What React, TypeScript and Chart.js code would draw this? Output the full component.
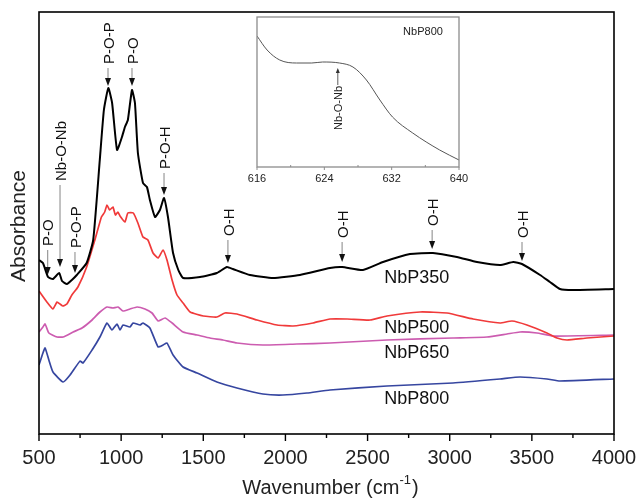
import React, { useEffect, useRef } from 'react';
import { Chart, registerables } from 'chart.js';

Chart.register(...registerables);

const FONT = '"Liberation Sans", Arial, Helvetica, sans-serif';

// ---------- main spectra (wavenumber cm-1, absorbance a.u.) ----------
const nbp350Wn = [500, 524, 555, 585, 623, 640, 670, 700, 730, 790, 830, 870, 895, 922, 945, 975, 1005, 1023, 1041, 1066, 1084, 1102, 1133, 1157, 1175, 1206, 1236, 1261, 1285, 1316, 1348, 1377, 1480, 1583, 1644, 1680, 1784, 1925, 2088, 2271, 2345, 2472, 2594, 2758, 2898, 3044, 3166, 3306, 3387, 3440, 3550, 3610, 3671, 3750, 4000];
const nbp350Abs = [1.74, 1.71, 1.57, 1.55, 1.61, 1.53, 1.50, 1.54, 1.59, 1.71, 1.94, 2.74, 3.24, 3.46, 3.31, 2.84, 2.97, 3.07, 3.14, 3.44, 3.31, 2.81, 2.51, 2.47, 2.34, 2.17, 2.24, 2.36, 2.17, 1.81, 1.64, 1.56, 1.57, 1.61, 1.67, 1.65, 1.59, 1.56, 1.59, 1.66, 1.67, 1.64, 1.72, 1.80, 1.81, 1.77, 1.72, 1.69, 1.72, 1.70, 1.59, 1.52, 1.45, 1.44, 1.45];

const nbp500Wn = [500, 548, 585, 610, 628, 645, 670, 700, 737, 790, 840, 880, 900, 914, 930, 950, 965, 980, 993, 1023, 1041, 1074, 1102, 1133, 1163, 1194, 1225, 1255, 1279, 1310, 1340, 1377, 1420, 1500, 1583, 1632, 1705, 1827, 1949, 2046, 2168, 2271, 2375, 2515, 2618, 2819, 2984, 3142, 3306, 3379, 3470, 3592, 3653, 3714, 3835, 4000];
const nbp500Abs = [1.43, 1.32, 1.25, 1.32, 1.30, 1.28, 1.30, 1.39, 1.47, 1.67, 1.94, 2.17, 2.22, 2.29, 2.24, 2.27, 2.19, 2.22, 2.18, 2.12, 2.21, 2.21, 2.11, 1.97, 1.94, 1.81, 1.76, 1.84, 1.74, 1.54, 1.39, 1.31, 1.22, 1.18, 1.17, 1.21, 1.20, 1.14, 1.09, 1.08, 1.11, 1.15, 1.15, 1.14, 1.18, 1.22, 1.21, 1.15, 1.11, 1.13, 1.09, 1.01, 0.96, 0.94, 0.96, 0.98];

const nbp650Wn = [500, 524, 537, 560, 610, 647, 708, 762, 823, 871, 914, 950, 981, 1011, 1054, 1097, 1145, 1188, 1225, 1267, 1310, 1377, 1462, 1541, 1620, 1705, 1863, 2070, 2271, 2618, 3020, 3227, 3349, 3428, 3531, 3629, 4000];
const nbp650Abs = [1.02, 1.07, 1.10, 1.01, 0.97, 0.97, 1.02, 1.06, 1.14, 1.22, 1.27, 1.26, 1.27, 1.23, 1.25, 1.27, 1.25, 1.21, 1.13, 1.16, 1.11, 1.02, 0.99, 0.96, 0.94, 0.91, 0.89, 0.90, 0.91, 0.94, 0.96, 0.97, 1.00, 1.02, 1.01, 0.98, 0.99];

const nbp800Wn = [500, 524, 537, 560, 585, 647, 689, 750, 768, 823, 871, 914, 944, 975, 993, 1011, 1054, 1072, 1115, 1133, 1175, 1225, 1255, 1279, 1316, 1377, 1462, 1583, 1705, 1863, 1985, 2131, 2271, 2618, 3020, 3306, 3428, 3592, 3671, 4000];
const nbp800Abs = [0.69, 0.81, 0.86, 0.74, 0.62, 0.52, 0.59, 0.73, 0.71, 0.84, 0.97, 1.11, 1.04, 1.10, 1.04, 1.09, 1.07, 1.11, 1.09, 1.11, 1.06, 0.87, 0.89, 0.91, 0.79, 0.67, 0.61, 0.52, 0.46, 0.40, 0.39, 0.41, 0.44, 0.48, 0.51, 0.55, 0.57, 0.55, 0.53, 0.55];

const seriesNames = ['NbP350', 'NbP500', 'NbP650', 'NbP800'];
const seriesColors = ['#000000', '#f03a3a', '#cc5cb0', '#3646a0'];
const seriesLabelWn = 2800;
const seriesLabelAbs = [1.56, 1.06, 0.81, 0.35];

// ---------- peak assignments ----------
const peakLabels = ['P-O', 'Nb-O-Nb', 'P-O-P', 'P-O-P', 'P-O', 'P-O-H', 'O-H', 'O-H', 'O-H', 'O-H'];
const peakWn = [553, 628, 719, 920, 1066, 1261, 1650, 2345, 2893, 3440];
const arrowStartAbs = [1.84, 2.49, 1.82, 3.66, 3.66, 2.61, 1.94, 1.92, 2.04, 1.92];
const arrowTipAbs = [1.59, 1.67, 1.61, 3.48, 3.48, 2.39, 1.71, 1.72, 1.85, 1.73];

const xMajorTicks = [500, 1000, 1500, 2000, 2500, 3000, 3500, 4000];
const xMinorTicks = [750, 1250, 1750, 2250, 2750, 3250, 3750];

// ---------- inset (NbP800, 616-640 cm-1) ----------
const insetWn = [616, 617.2, 618.7, 620.7, 622.5, 623.8, 625.8, 627.4, 629, 630.6, 632.1, 634.5, 637.7, 640];
const insetAbs = [131, 117, 107, 104, 104, 105, 104, 100, 87, 67, 50, 34, 17, 7];
const insetMajorTicks = [616, 624, 632, 640];
const insetMinorTicks = [620, 628, 636];
const insetPeakWn = 625.6;
const insetArrowStart = 82;
const insetArrowTip = 99;

const toPoints = (xs: number[], ys: number[]) => xs.map((x, i) => ({ x, y: ys[i] }));

function drawArrow(ctx: CanvasRenderingContext2D, x: number, y0: number, y1: number, head: number, halfW: number, lineColor: string, headColor: string) {
  const dir = y1 > y0 ? 1 : -1;
  ctx.save();
  ctx.strokeStyle = lineColor;
  ctx.lineWidth = 0.8;
  ctx.beginPath();
  ctx.moveTo(x, y0);
  ctx.lineTo(x, y1 - dir * head);
  ctx.stroke();
  ctx.fillStyle = headColor;
  ctx.beginPath();
  ctx.moveTo(x, y1);
  ctx.lineTo(x - halfW, y1 - dir * head);
  ctx.lineTo(x + halfW, y1 - dir * head);
  ctx.closePath();
  ctx.fill();
  ctx.restore();
}

function drawVerticalText(ctx: CanvasRenderingContext2D, text: string, x: number, yBottom: number, font: string, color: string) {
  ctx.save();
  ctx.translate(x, yBottom);
  ctx.rotate(-Math.PI / 2);
  ctx.font = font;
  ctx.fillStyle = color;
  ctx.textAlign = 'left';
  ctx.textBaseline = 'middle';
  ctx.fillText(text, 0, 0);
  ctx.restore();
}

const mainPlugin = {
  id: 'mainDecor',
  afterDraw(chart: any) {
    const ctx: CanvasRenderingContext2D = chart.ctx;
    const { left, top, right, bottom } = chart.chartArea;
    const xs = chart.scales.x;
    const ys = chart.scales.y;
    ctx.save();
    // frame
    ctx.strokeStyle = '#000';
    ctx.lineWidth = 1.6;
    ctx.strokeRect(left, top, right - left, bottom - top);
    // ticks
    ctx.lineWidth = 1.4;
    ctx.beginPath();
    xMajorTicks.forEach((t) => {
      const px = xs.getPixelForValue(t);
      ctx.moveTo(px, bottom);
      ctx.lineTo(px, bottom + 7);
    });
    xMinorTicks.forEach((t) => {
      const px = xs.getPixelForValue(t);
      ctx.moveTo(px, bottom);
      ctx.lineTo(px, bottom + 4);
    });
    ctx.stroke();
    // tick labels
    ctx.font = `20px ${FONT}`;
    ctx.fillStyle = '#222';
    ctx.textAlign = 'center';
    ctx.textBaseline = 'middle';
    xMajorTicks.forEach((t) => {
      ctx.fillText(String(t), xs.getPixelForValue(t), bottom + 24);
    });
    // x title with superscript
    const p1 = 'Wavenumber (cm';
    const sup = '-1';
    const p3 = ')';
    ctx.font = `20px ${FONT}`;
    const w1 = ctx.measureText(p1).width;
    const w3 = ctx.measureText(p3).width;
    ctx.font = `13px ${FONT}`;
    const w2 = ctx.measureText(sup).width;
    const total = w1 + w2 + w3 + 1;
    let cx = (left + right) / 2 - total / 2 + 4;
    const ty = 487;
    ctx.textAlign = 'left';
    ctx.textBaseline = 'alphabetic';
    ctx.font = `20px ${FONT}`;
    ctx.fillText(p1, cx, ty + 7);
    cx += w1;
    ctx.font = `13px ${FONT}`;
    ctx.fillText(sup, cx, ty - 3);
    cx += w2 + 1;
    ctx.font = `20px ${FONT}`;
    ctx.fillText(p3, cx, ty + 7);
    // y title
    ctx.save();
    ctx.translate(19, (top + bottom) / 2 + 3);
    ctx.rotate(-Math.PI / 2);
    ctx.font = `21px ${FONT}`;
    ctx.textAlign = 'center';
    ctx.textBaseline = 'middle';
    ctx.fillText('Absorbance', 0, 0);
    ctx.restore();
    // peak annotations
    peakLabels.forEach((lab, i) => {
      const px = xs.getPixelForValue(peakWn[i]);
      const y0 = ys.getPixelForValue(arrowStartAbs[i]);
      const y1 = ys.getPixelForValue(arrowTipAbs[i]);
      drawArrow(ctx, px, y0, y1, 8, 3, '#666', '#111');
      drawVerticalText(ctx, lab, px + 1.5, y0 - 4, `15px ${FONT}`, '#111');
    });
    // series labels
    ctx.font = `18px ${FONT}`;
    ctx.fillStyle = '#111';
    ctx.textAlign = 'center';
    ctx.textBaseline = 'middle';
    seriesNames.forEach((n, i) => {
      ctx.fillText(n, xs.getPixelForValue(seriesLabelWn), ys.getPixelForValue(seriesLabelAbs[i]));
    });
    ctx.restore();
  },
};

const insetPlugin = {
  id: 'insetDecor',
  afterDraw(chart: any) {
    const ctx: CanvasRenderingContext2D = chart.ctx;
    const { left, top, right, bottom } = chart.chartArea;
    const xs = chart.scales.x;
    const ys = chart.scales.y;
    ctx.save();
    ctx.strokeStyle = '#8c8c8c';
    ctx.lineWidth = 1.3;
    ctx.strokeRect(left, top, right - left, bottom - top);
    ctx.lineWidth = 1;
    ctx.beginPath();
    insetMajorTicks.forEach((t) => {
      const px = xs.getPixelForValue(t);
      ctx.moveTo(px, bottom);
      ctx.lineTo(px, bottom + 3);
    });
    insetMinorTicks.forEach((t) => {
      const px = xs.getPixelForValue(t);
      ctx.moveTo(px, bottom);
      ctx.lineTo(px, bottom - 2);
    });
    ctx.stroke();
    ctx.font = `11px ${FONT}`;
    ctx.fillStyle = '#222';
    ctx.textAlign = 'center';
    ctx.textBaseline = 'middle';
    insetMajorTicks.forEach((t) => {
      ctx.fillText(String(t), xs.getPixelForValue(t), bottom + 12);
    });
    ctx.fillText('NbP800', right - 36, top + 15);
    const px = xs.getPixelForValue(insetPeakWn);
    const y0 = ys.getPixelForValue(insetArrowStart);
    const y1 = ys.getPixelForValue(insetArrowTip);
    drawArrow(ctx, px, y0, y1, 5, 2, '#333', '#333');
    drawVerticalText(ctx, 'Nb-O-Nb', px + 1, y0 + 45, `11px ${FONT}`, '#222');
    ctx.restore();
  },
};

function MainChart() {
  const ref = useRef<HTMLCanvasElement>(null);
  useEffect(() => {
    if (!ref.current) return;
    const series = [
      toPoints(nbp350Wn, nbp350Abs),
      toPoints(nbp500Wn, nbp500Abs),
      toPoints(nbp650Wn, nbp650Abs),
      toPoints(nbp800Wn, nbp800Abs),
    ];
    const chart = new Chart(ref.current, {
      type: 'line',
      data: {
        datasets: series.map((d, i) => ({
          label: seriesNames[i],
          data: d,
          borderColor: seriesColors[i],
          borderWidth: i === 0 ? 2 : 1.7,
          pointRadius: 0,
          fill: false,
          tension: 0.15,
        })),
      },
      options: {
        responsive: false,
        animation: false,
        events: [],
        layout: { padding: { left: 0, right: 24, top: 12, bottom: 0 } },
        plugins: { legend: { display: false }, tooltip: { enabled: false }, title: { display: false } },
        scales: {
          x: {
            type: 'linear',
            min: 500,
            max: 4000,
            grid: { display: false },
            border: { display: false },
            ticks: { display: false },
            afterFit: (s: any) => { s.height = 64; },
          },
          y: {
            type: 'linear',
            min: 0,
            max: 4.22,
            grid: { display: false },
            border: { display: false },
            ticks: { display: false },
            afterFit: (s: any) => { s.width = 39; },
          },
        },
      },
      plugins: [mainPlugin],
    } as any);
    return () => chart.destroy();
  }, []);
  return <canvas ref={ref} width={638} height={498} style={{ position: 'absolute', left: 0, top: 0 }} />;
}

function InsetChart() {
  const ref = useRef<HTMLCanvasElement>(null);
  useEffect(() => {
    if (!ref.current) return;
    const chart = new Chart(ref.current, {
      type: 'line',
      data: {
        datasets: [{
          label: 'NbP800',
          data: toPoints(insetWn, insetAbs),
          borderColor: '#555',
          borderWidth: 1,
          pointRadius: 0,
          fill: false,
          cubicInterpolationMode: 'monotone',
        }],
      },
      options: {
        responsive: false,
        animation: false,
        events: [],
        layout: { padding: { left: 27, right: 21, top: 12, bottom: 0 } },
        plugins: { legend: { display: false }, tooltip: { enabled: false } },
        scales: {
          x: {
            type: 'linear',
            min: 616,
            max: 640,
            grid: { display: false },
            border: { display: false },
            ticks: { display: false },
            afterFit: (s: any) => { s.height = 33; },
          },
          y: {
            type: 'linear',
            min: 0,
            max: 150,
            display: false,
          },
        },
      },
      plugins: [insetPlugin],
    } as any);
    return () => chart.destroy();
  }, []);
  return <canvas ref={ref} width={250} height={195} style={{ position: 'absolute', left: 230, top: 5 }} />;
}

export default function App() {
  return (
    <div style={{ position: 'absolute', left: 0, top: 0, width: 638, height: 498, background: '#fff' }}>
      <MainChart />
      <InsetChart />
    </div>
  );
}
